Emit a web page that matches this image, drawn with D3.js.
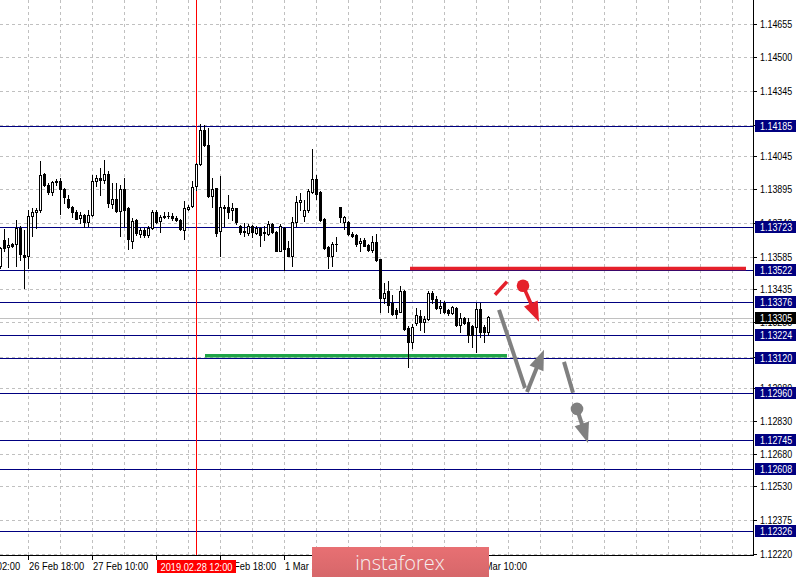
<!DOCTYPE html>
<html><head><meta charset="utf-8">
<script src="https://cdn.jsdelivr.net/npm/d3@7/dist/d3.min.js"></script>
<style>
html,body{margin:0;padding:0;background:#fff;overflow:hidden}
svg{display:block}
text{font-family:"Liberation Sans",Arial,sans-serif;font-size:11px}
</style></head><body>
<svg id="c" width="799" height="578"></svg>
<script>
// ---- data (EURUSD H1) ----
const open  = [1.13540,1.13662,1.13630,1.13643,1.13643,1.13716,1.13594,1.13586,1.13770,1.13790,1.13797,1.13966,1.13915,1.13882,1.13930,1.13930,1.13897,1.13851,1.13815,1.13790,1.13760,1.13777,1.13742,1.13774,1.13930,1.13944,1.13938,1.13966,1.13826,1.13849,1.13796,1.13895,1.13808,1.13658,1.13751,1.13691,1.13708,1.13682,1.13716,1.13791,1.13747,1.13767,1.13770,1.13773,1.13762,1.13754,1.13708,1.13805,1.13819,1.13907,1.14010,1.14168,1.14099,1.13861,1.13900,1.13701,1.13813,1.13813,1.13797,1.13806,1.13724,1.13701,1.13693,1.13724,1.13693,1.13716,1.13698,1.13690,1.13735,1.13698,1.13613,1.13718,1.13626,1.13590,1.13744,1.13836,1.13770,1.13797,1.13880,1.13941,1.13880,1.13759,1.13627,1.13586,1.13644,1.13813,1.13744,1.13744,1.13690,1.13684,1.13647,1.13662,1.13640,1.13617,1.13652,1.13574,1.13395,1.13425,1.13372,1.13341,1.13333,1.13425,1.13257,1.13195,1.13280,1.13313,1.13287,1.13298,1.13418,1.13391,1.13349,1.13374,1.13338,1.13326,1.13349,1.13272,1.13303,1.13287,1.13267,1.13261,1.13344,1.13261,1.13237];
const high  = [1.13630,1.13713,1.13672,1.13649,1.13754,1.13724,1.13708,1.13800,1.13808,1.13808,1.14025,1.13969,1.13923,1.13930,1.13941,1.13946,1.13900,1.13869,1.13819,1.13800,1.13788,1.13781,1.13800,1.13961,1.13961,1.13992,1.14027,1.13976,1.13923,1.13923,1.13915,1.13946,1.13811,1.13762,1.13757,1.13716,1.13716,1.13724,1.13797,1.13797,1.13774,1.13788,1.13792,1.13785,1.13770,1.13759,1.13838,1.13823,1.13931,1.14015,1.14195,1.14191,1.14176,1.13946,1.13900,1.13953,1.13823,1.13869,1.13831,1.13808,1.13731,1.13739,1.13736,1.13731,1.13724,1.13721,1.13724,1.13747,1.13739,1.13701,1.13736,1.13721,1.13655,1.13767,1.13865,1.13877,1.13846,1.13895,1.14081,1.13961,1.13884,1.13762,1.13632,1.13650,1.13675,1.13815,1.13770,1.13747,1.13696,1.13689,1.13670,1.13670,1.13644,1.13678,1.13690,1.13574,1.13464,1.13471,1.13410,1.13349,1.13448,1.13433,1.13267,1.13276,1.13349,1.13341,1.13313,1.13425,1.13425,1.13402,1.13384,1.13379,1.13344,1.13359,1.13353,1.13326,1.13310,1.13303,1.13272,1.13374,1.13374,1.13272,1.13313];
const low   = [1.13534,1.13612,1.13538,1.13630,1.13540,1.13571,1.13443,1.13535,1.13678,1.13716,1.13792,1.13907,1.13874,1.13869,1.13915,1.13781,1.13831,1.13808,1.13767,1.13757,1.13739,1.13721,1.13724,1.13770,1.13911,1.13869,1.13923,1.13813,1.13808,1.13792,1.13681,1.13727,1.13620,1.13624,1.13685,1.13675,1.13675,1.13673,1.13714,1.13739,1.13696,1.13760,1.13762,1.13754,1.13747,1.13708,1.13666,1.13800,1.13814,1.13892,1.14007,1.14091,1.13859,1.13815,1.13678,1.13586,1.13724,1.13762,1.13754,1.13736,1.13689,1.13678,1.13685,1.13675,1.13689,1.13632,1.13662,1.13685,1.13693,1.13612,1.13612,1.13525,1.13586,1.13544,1.13724,1.13800,1.13747,1.13792,1.13877,1.13849,1.13747,1.13621,1.13535,1.13544,1.13613,1.13744,1.13714,1.13682,1.13675,1.13632,1.13609,1.13632,1.13612,1.13606,1.13563,1.13333,1.13372,1.13333,1.13318,1.13303,1.13330,1.13249,1.13080,1.13165,1.13272,1.13249,1.13241,1.13295,1.13374,1.13344,1.13326,1.13328,1.13318,1.13322,1.13267,1.13241,1.13276,1.13195,1.13172,1.13149,1.13218,1.13195,1.13226];
const close = [1.13626,1.13626,1.13640,1.13636,1.13716,1.13598,1.13583,1.13773,1.13792,1.13800,1.13961,1.13912,1.13880,1.13926,1.13926,1.13895,1.13857,1.13811,1.13790,1.13759,1.13777,1.13742,1.13777,1.13934,1.13946,1.13938,1.13966,1.13831,1.13849,1.13796,1.13895,1.13800,1.13666,1.13747,1.13693,1.13708,1.13685,1.13716,1.13790,1.13742,1.13767,1.13770,1.13771,1.13760,1.13754,1.13712,1.13808,1.13815,1.13906,1.14010,1.14168,1.14096,1.13861,1.13897,1.13693,1.13813,1.13806,1.13792,1.13808,1.13742,1.13696,1.13696,1.13724,1.13696,1.13718,1.13685,1.13693,1.13735,1.13698,1.13613,1.13724,1.13620,1.13589,1.13744,1.13837,1.13846,1.13800,1.13884,1.13941,1.13874,1.13751,1.13623,1.13586,1.13644,1.13645,1.13767,1.13767,1.13687,1.13678,1.13644,1.13658,1.13636,1.13617,1.13652,1.13571,1.13395,1.13420,1.13364,1.13321,1.13321,1.13425,1.13252,1.13195,1.13264,1.13318,1.13287,1.13298,1.13420,1.13390,1.13349,1.13359,1.13333,1.13326,1.13353,1.13272,1.13303,1.13280,1.13226,1.13226,1.13344,1.13237,1.13237,1.13307];

const priceTicks = [1.14655,1.14500,1.14345,1.14190,1.14045,1.13895,1.13740,1.13585,1.13435,1.13285,1.13125,1.12980,1.12830,1.12680,1.12530,1.12375,1.12220];
const levels = [1.14185,1.13723,1.13522,1.13376,1.13224,1.13120,1.12960,1.12745,1.12608,1.12326];
const currentPrice = 1.13305;
const timeTickBars = [-9,7,23,39,55,71,87,103,119];
const timeTickLabels = ["26 Feb 02:00","26 Feb 18:00","27 Feb 10:00","28 Feb 02:00","28 Feb 18:00","1 Mar 10:00","4 Mar 02:00","4 Mar 18:00","5 Mar 10:00"];
const cursorBar = 49, cursorLabel = "2019.02.28 12:00";
const resistance = {price:1.13530, from:102.5, to:186.5};
const support    = {price:1.13130, from:51.25, to:126.75};
const redDash   = [[123.75,1.13410],[126.75,1.13470]];
const redArrow  = [[130.75,1.13451],[134.75,1.13286]];
const grayLine1 = [[124.75,1.13341],[131.25,1.12983]];
const grayUp    = [[131.75,1.12964],[136.0,1.13157]];
const grayLine2 = [[141.0,1.13102],[143.25,1.12960]];
const grayDown  = [[144.25,1.12886],[147.0,1.12730]];

// ---- scales ----
const W = 799, H = 578, AX = 753, AY = 555;
const xb = d3.scaleLinear().domain([0, 187]).range([0, 748]);
const y = d3.scaleLinear().domain([1.12220, 1.14655]).range([554, 23.5]);
const cy = v => Math.round(y(v)) + 0.5;
const NAVY = "#000080", GRID = "#c0c0c0", RED = "#e5202b", GRAY = "#808080";
const SQ = 0.81;
function squeeze(sel, k) {
  sel.each(function () {
    const L = this.getComputedTextLength();
    this.setAttribute("textLength", (L * k).toFixed(2));
    this.setAttribute("lengthAdjust", "spacingAndGlyphs");
  });
}

const svg = d3.select("#c");
svg.append("rect").attr("width", W).attr("height", H).attr("fill", "#fff");

// grid
const gridBars = d3.range(7, 187, 8);
svg.append("g").selectAll("line").data(gridBars).join("line")
  .attr("x1", d => Math.round(xb(d)) + 0.5).attr("x2", d => Math.round(xb(d)) + 0.5)
  .attr("y1", 0).attr("y2", AY).attr("stroke", GRID).attr("stroke-dasharray", "3,3");
svg.append("g").selectAll("line").data(priceTicks).join("line")
  .attr("x1", 0).attr("x2", AX).attr("y1", d => cy(d)).attr("y2", d => cy(d))
  .attr("stroke", GRID).attr("stroke-dasharray", "3,3");

// level lines
svg.append("g").selectAll("line").data(levels).join("line")
  .attr("x1", 0).attr("x2", AX).attr("y1", d => cy(d)).attr("y2", d => cy(d))
  .attr("stroke", NAVY).attr("stroke-width", 1);
// current price line
svg.append("line").attr("x1", 0).attr("x2", AX).attr("y1", cy(currentPrice)).attr("y2", cy(currentPrice))
  .attr("stroke", "#c0c0c0");

// cursor vertical line
svg.append("line").attr("x1", Math.round(xb(cursorBar)) + 0.5).attr("x2", Math.round(xb(cursorBar)) + 0.5)
  .attr("y1", 0).attr("y2", AY + 1).attr("stroke", "#ff0000");

// resistance / support
svg.append("line").attr("x1", xb(resistance.from)).attr("x2", xb(resistance.to))
  .attr("y1", y(resistance.price)).attr("y2", y(resistance.price))
  .attr("stroke", RED).attr("stroke-width", 3.5);
svg.append("line").attr("x1", xb(support.from)).attr("x2", xb(support.to))
  .attr("y1", y(support.price)).attr("y2", y(support.price))
  .attr("stroke", "#1fa348").attr("stroke-width", 3.5);

// candles
const idx = d3.range(open.length);
const cg = svg.append("g");
cg.selectAll("line").data(idx).join("line")
  .attr("x1", i => Math.round(xb(i)) + 0.5).attr("x2", i => Math.round(xb(i)) + 0.5)
  .attr("y1", i => Math.round(y(high[i]))).attr("y2", i => Math.round(y(low[i])) + 1)
  .attr("stroke", "#000").attr("shape-rendering", "crispEdges");
cg.selectAll("rect").data(idx).join("rect")
  .attr("x", i => Math.round(xb(i)) - 0.5).attr("width", 2)
  .attr("y", i => Math.round(Math.min(y(open[i]), y(close[i]))) + 0.5)
  .attr("height", i => Math.max(0.001, Math.round(Math.max(y(open[i]), y(close[i]))) - Math.round(Math.min(y(open[i]), y(close[i])))))
  .attr("fill", i => close[i] >= open[i] ? "#fff" : "#000")
  .attr("stroke", "#000");

// annotations
function seg(p, color, w) {
  svg.append("line").attr("x1", xb(p[0][0])).attr("y1", y(p[0][1]))
    .attr("x2", xb(p[1][0])).attr("y2", y(p[1][1]))
    .attr("stroke", color).attr("stroke-width", w);
}
function arrow(p, color, w, dot) {
  const x0 = xb(p[0][0]), y0 = y(p[0][1]), x1 = xb(p[1][0]), y1 = y(p[1][1]);
  const dx = x1 - x0, dy = y1 - y0, L = Math.hypot(dx, dy), ux = dx / L, uy = dy / L;
  const hl = 20, hw = 7.5;
  const bx = x1 - ux * hl, by = y1 - uy * hl;
  svg.append("line").attr("x1", x0).attr("y1", y0).attr("x2", bx + ux * 2).attr("y2", by + uy * 2)
    .attr("stroke", color).attr("stroke-width", w);
  svg.append("path").attr("d", `M${x1},${y1}L${bx - uy * hw},${by + ux * hw}L${bx + uy * hw},${by - ux * hw}Z`)
    .attr("fill", color);
  if (dot) svg.append("circle").attr("cx", x0).attr("cy", y0).attr("r", 6.3).attr("fill", color);
}
seg(redDash, RED, 3.5);
arrow(redArrow, RED, 3.5, true);
seg(grayLine1, GRAY, 4);
arrow(grayUp, GRAY, 4, false);
seg(grayLine2, GRAY, 4);
arrow(grayDown, GRAY, 4, true);

// axes frame
svg.append("rect").attr("x", AX + 1).attr("y", 0).attr("width", W - AX).attr("height", H).attr("fill", "#fff");
svg.append("rect").attr("x", 0).attr("y", AY + 1).attr("width", W).attr("height", H - AY).attr("fill", "#fff");
svg.append("line").attr("x1", AX + 0.5).attr("x2", AX + 0.5).attr("y1", 0).attr("y2", AY + 1).attr("stroke", "#000");
svg.append("line").attr("x1", 0).attr("x2", AX + 1).attr("y1", AY + 0.5).attr("y2", AY + 0.5).attr("stroke", "#000");

// right axis ticks + labels
const ra = svg.append("g");
ra.selectAll("line").data(priceTicks).join("line")
  .attr("x1", AX).attr("x2", AX + 4).attr("y1", d => cy(d)).attr("y2", d => cy(d)).attr("stroke", "#000");
ra.selectAll("text").data(priceTicks).join("text")
  .attr("x", 760).attr("y", d => Math.round(y(d)) + 4).attr("fill", "#000").text(d => d.toFixed(5))
  .call(squeeze, SQ);

// level boxes
const lb = svg.append("g").selectAll("g").data(levels).join("g");
lb.append("rect").attr("x", 755).attr("y", d => Math.round(y(d)) - 6).attr("width", 41).attr("height", 12).attr("fill", NAVY);
lb.append("text").attr("x", 760).attr("y", d => Math.round(y(d)) + 4).attr("fill", "#fff").text(d => d.toFixed(5))
  .call(squeeze, SQ);
svg.append("rect").attr("x", 755).attr("y", Math.round(y(currentPrice)) - 6).attr("width", 41).attr("height", 12).attr("fill", "#000");
svg.append("text").attr("x", 760).attr("y", Math.round(y(currentPrice)) + 4).attr("fill", "#fff").text(currentPrice.toFixed(5))
  .call(squeeze, SQ);

// bottom axis ticks + labels
const ba = svg.append("g");
ba.selectAll("line").data(timeTickBars).join("line")
  .attr("x1", d => Math.round(xb(d)) + 0.5).attr("x2", d => Math.round(xb(d)) + 0.5)
  .attr("y1", AY).attr("y2", AY + 5).attr("stroke", "#000");
ba.selectAll("text").data(timeTickBars).join("text")
  .attr("x", d => xb(d) + 1).attr("y", 570).attr("fill", "#000")
  .text((d, i) => timeTickLabels[i])
  .call(squeeze, 0.85);

// cursor time label
const cx0 = Math.round(xb(cursorBar));
svg.append("rect").attr("x", cx0 - 39).attr("y", 560).attr("width", 79).attr("height", 13).attr("fill", "#ff0000");
svg.append("text").attr("x", cx0 + 0.5).attr("y", 570.5).attr("text-anchor", "middle").attr("fill", "#fff").text(cursorLabel)
  .call(squeeze, 0.84);

// logo
const defs = svg.append("defs");
const lg = defs.append("linearGradient").attr("id", "lg").attr("x1", 0).attr("x2", 0).attr("y1", 0).attr("y2", 1);
lg.append("stop").attr("offset", 0).attr("stop-color", "#e87073");
lg.append("stop").attr("offset", 1).attr("stop-color", "#d6676a");
svg.append("rect").attr("x", 312).attr("y", 547).attr("width", 177).attr("height", 30).attr("fill", "url(#lg)");
svg.append("text").attr("x", 400).attr("y", 570).attr("text-anchor", "middle")
  .style("font-family", "'Open Sans', 'Noto Sans', sans-serif").style("font-size", "20px").style("font-weight", 300)
  .attr("fill", "#f6f0f0").text("instaforex");
</script>
</body></html>
